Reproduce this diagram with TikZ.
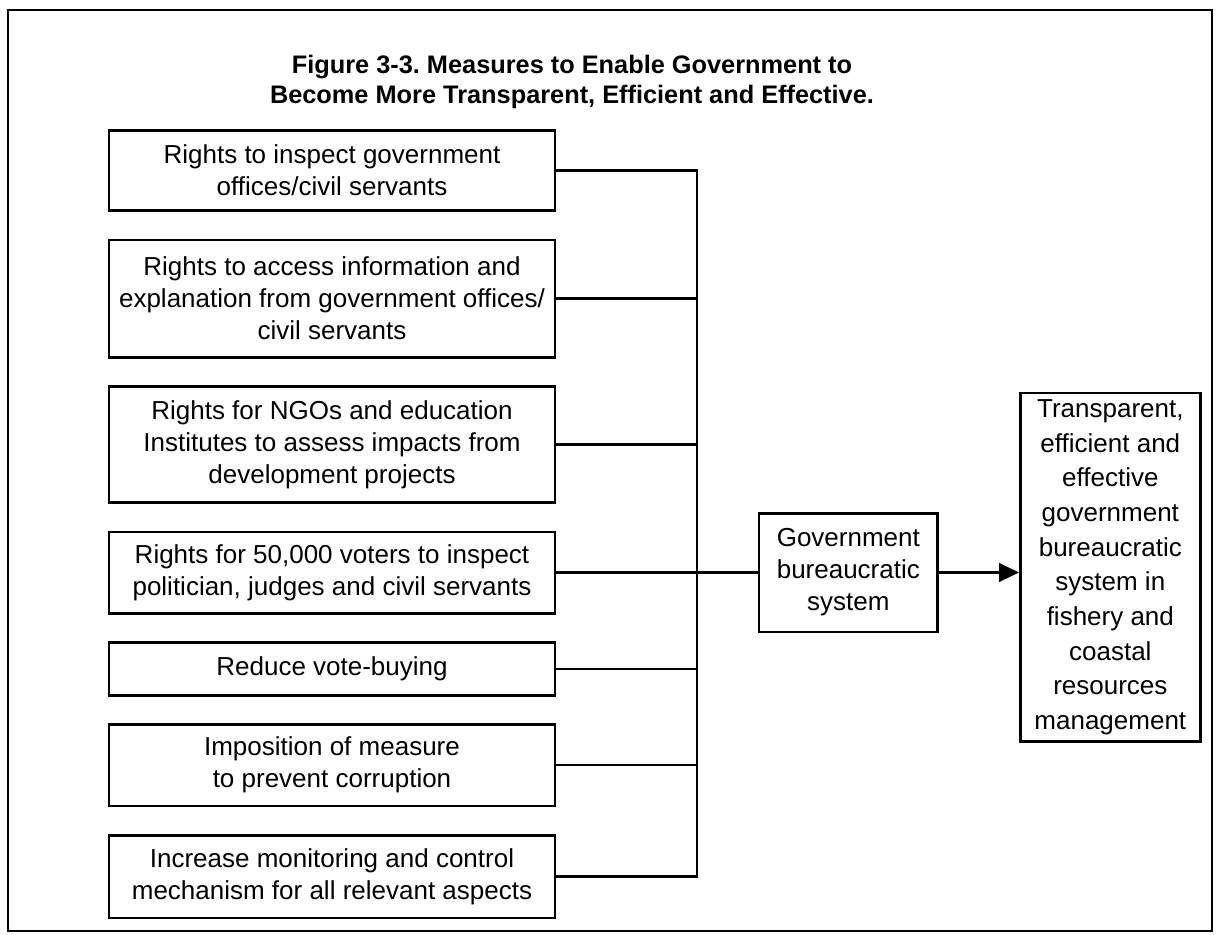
\documentclass[tikz,border=0pt]{standalone}
\usepackage{fontspec}
\setmainfont{Liberation Sans}
\usetikzlibrary{arrows.meta,positioning}
\frenchspacing

\begin{document}
\begin{tikzpicture}[x=0.75pt,y=-0.75pt,>={Triangle[length=15pt,width=14pt]},line width=1.7pt,node distance=20pt,
    every node/.style={align=center,inner sep=2pt,font=\fontsize{19.5}{24}\selectfont},
    box/.style={draw,line width=2pt},
    measure/.style={box,minimum width=334.5pt}]
    \useasboundingbox (0,0) rectangle (1218,935);
    \draw[line width=1.6pt] (8,10) rectangle (1212,931);
    \node (title) at (572,82) [font=\fontsize{19}{22}\selectfont\bfseries] {Figure 3-3. Measures to Enable Government to\\Become More Transparent, Efficient and Effective.};
    \node (m1) at (332,170.5) [measure,minimum height=60pt] {Rights to inspect government\\offices/civil servants};
    \node (m2) [measure,minimum height=88pt,below=of m1] {Rights to access information and\\explanation from government offices/\\civil servants};
    \node (m3) [measure,minimum height=87pt,below=of m2] {Rights for NGOs and education\\Institutes to assess impacts from\\development projects};
    \node (m4) [measure,minimum height=61pt,below=of m3] {Rights for 50,000 voters to inspect\\politician, judges and civil servants};
    \node (m5) [measure,minimum height=39.5pt,below=of m4] {Reduce vote-buying};
    \node (m6) [measure,minimum height=61pt,below=of m5] {Imposition of measure\\to prevent corruption};
    \node (m7) [measure,minimum height=62pt,below=of m6] {Increase monitoring and control\\mechanism for all relevant aspects};
    \node (gov) [box,minimum width=134pt,minimum height=89pt,right=151pt of m4] {Government\\bureaucratic\\system};
    \node (goal) [box,minimum width=135pt,minimum height=261.5pt,right=60pt of gov,yshift=4pt,font=\fontsize{19.5}{26}\selectfont] {Transparent,\\efficient and\\effective\\government\\bureaucratic\\system in\\fishery and\\coastal\\resources\\management};
    \coordinate (bus) at (697,0);
    \draw (m1.east) -- (m1.east -| bus) -- (m7.east -| bus) -- (m7.east);
    \foreach \i in {2,3,5,6}
        \draw (m\i.east) -- (m\i.east -| bus);
    \draw (m4.east) -- (gov.west);
    \draw[->] (gov.east) -- (gov.east -| goal.west);
\end{tikzpicture}
\end{document}
